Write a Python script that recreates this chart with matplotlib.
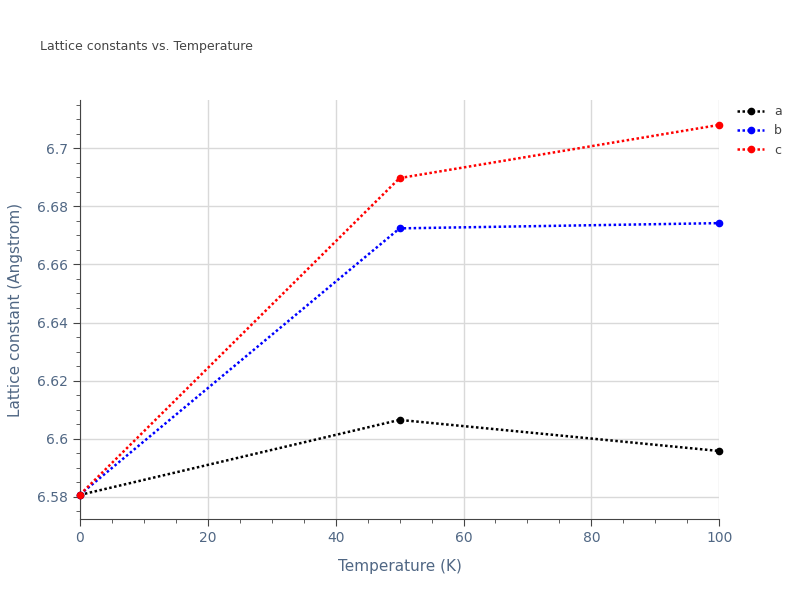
import matplotlib
matplotlib.use("Agg")
import matplotlib.pyplot as plt
from matplotlib.ticker import FuncFormatter, MultipleLocator

temps = [0, 50, 100]
a_vals = [6.5807, 6.6065, 6.5958]
b_vals = [6.5808, 6.6724, 6.6742]
c_vals = [6.5808, 6.6897, 6.7080]
series = [("a", a_vals, "black"), ("b", b_vals, "blue"), ("c", c_vals, "red")]

fig = plt.figure(figsize=(8, 6), dpi=100)
ax = fig.add_axes([0.1, 0.135, 0.799, 0.698])
for name, vals, col in series:
    ax.plot(temps, vals, linestyle=(0, (1, 1)), linewidth=1.8, color=col, marker="o",
            markersize=4.5, label=name, clip_on=False, zorder=3)

ax.set_xlim(0, 100)
ax.set_ylim(6.5724, 6.7165)
ax.xaxis.set_major_locator(MultipleLocator(20))
ax.xaxis.set_minor_locator(MultipleLocator(5))
ax.yaxis.set_major_locator(MultipleLocator(0.02))
ax.yaxis.set_minor_locator(MultipleLocator(0.005))
ax.yaxis.set_major_formatter(FuncFormatter(lambda v, p: f"{v:.4g}"))
ax.grid(True, which="major", color="#d9d9d9", linewidth=1)
ax.set_axisbelow(True)
for s in ["top", "right"]:
    ax.spines[s].set_visible(False)
for s in ["left", "bottom"]:
    ax.spines[s].set_color("#444444")
ax.tick_params(axis="both", which="major", length=5, colors="#444444",
               labelcolor="#506784", labelsize=10)
ax.tick_params(axis="both", which="minor", length=3, colors="#444444")
ax.set_xlabel("Temperature (K)", fontsize=11, color="#506784", labelpad=10)
ax.set_ylabel("Lattice constant (Angstrom)", fontsize=11, color="#506784", labelpad=10)
fig.text(0.05, 0.917, "Lattice constants vs. Temperature", fontsize=9, color="#444444")
leg = ax.legend(loc="upper left", bbox_to_anchor=(1.01, 1.015), frameon=False,
                fontsize=9, handlelength=2.2, labelcolor="#444444")
fig.savefig("out.png", dpi=100)
